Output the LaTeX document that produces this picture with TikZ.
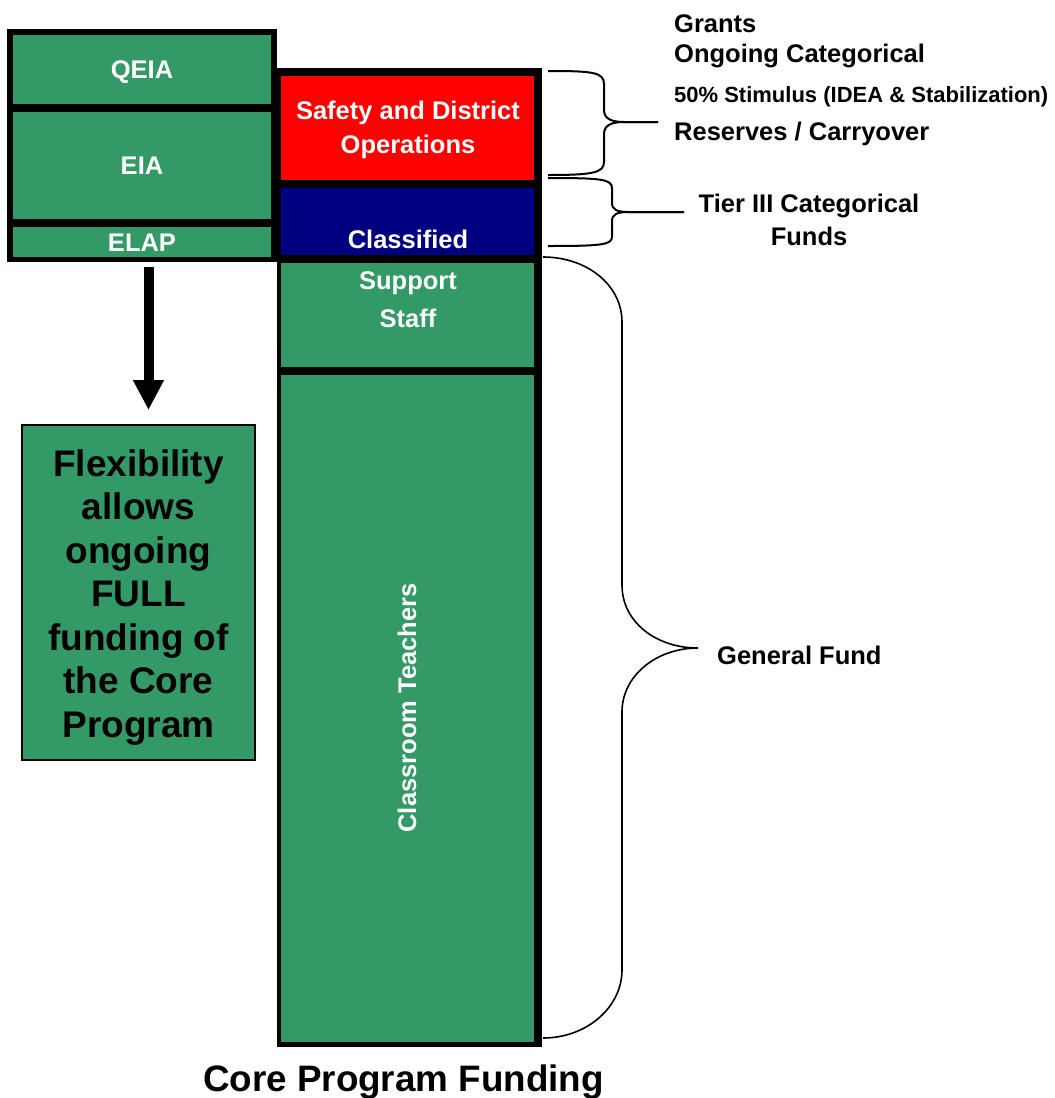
\documentclass[tikz,border=0pt]{standalone}
\usepackage{fontspec}
\setmainfont{Liberation Sans}
\usetikzlibrary{arrows.meta}
\definecolor{fgreen}{HTML}{339966}
\definecolor{fred}{HTML}{FF0000}
\definecolor{fnavy}{HTML}{000080}
\begin{document}
\begin{tikzpicture}[x=1pt,y=-1pt,
  cell/.style={rectangle, inner sep=0pt, outer sep=0pt, draw=none},
  lbl/.style={font=\bfseries\fontsize{25.5}{30}\selectfont, inner sep=0pt, anchor=base},
  wlbl/.style={lbl, text=white},
  side/.style={lbl, anchor=base west},
  bigl/.style={font=\bfseries\fontsize{37}{44}\selectfont, inner sep=0pt, anchor=base},
  brace/.style={draw=black, line width=2pt},
  gbrace/.style={draw=black, line width=1.6pt}]
\useasboundingbox (0,0) rectangle (1055,1098);

% frames
\node[cell, fill=black, minimum width=270pt, minimum height=233pt] (leftframe) at (142,145.5) {};
\node[cell, fill=black, minimum width=265pt, minimum height=979pt] (rightframe) at (409.5,557.5) {};

% left cells
\node[cell, fill=fgreen, minimum width=258pt, minimum height=69pt] (qeia) at (142,69.5) {};
\node[cell, fill=fgreen, minimum width=258pt, minimum height=107pt] (eia) at (142,165.5) {};
\node[cell, fill=fgreen, minimum width=258pt, minimum height=30pt] (elap) at (142,242) {};

% right cells
\node[cell, fill=fred, minimum width=253pt, minimum height=104pt] (safety) at (407.5,128) {};
\node[cell, fill=fnavy, minimum width=253pt, minimum height=67pt] (classified) at (407.5,221.5) {};
\node[cell, fill=fgreen, minimum width=253pt, minimum height=104pt] (support) at (407.5,315) {};
\node[cell, fill=fgreen, minimum width=253pt, minimum height=667pt] (teachers) at (407.5,708.5) {};

% cell labels
\node[wlbl] (tqeia) at (142,78) {QEIA};
\node[wlbl] (teia) at (142,174) {EIA};
\node[wlbl] (telap) at (142,251) {ELAP};
\node[wlbl] (tsaf1) at (408,119) {Safety and District};
\node[wlbl] (tsaf2) at (408,153) {Operations};
\node[wlbl] (tcla) at (408,248) {Classified};
\node[wlbl] (tsup1) at (408,289) {Support};
\node[wlbl] (tsup2) at (408,327) {Staff};
\node[lbl, text=white, anchor=center, rotate=90] (ttea) at (407,708) {Classroom Teachers};

% flexibility box and arrow
\node[cell, draw=black, line width=1.5pt, fill=fgreen, minimum width=233pt, minimum height=335pt] (flex) at (138.5,592.5) {};
\foreach \t [count=\i from 0] in {Flexibility,allows,ongoing,FULL,funding of,the Core,Program}
  \node[bigl] (fl\i) at (138.5,476+43.5*\i) {\t};
\coordinate (arrtop) at (148.5,267);
\coordinate (arrtip) at ([yshift=15pt]flex.north -| arrtop);
\draw[line width=10pt, -{Triangle[length=30pt,width=29pt]}] (arrtop) -- (arrtip);

% side labels
\node[side] (grants) at (674,32) {Grants};
\node[side] (ongoing) at (674,62) {Ongoing Categorical};
\node[side, font=\bfseries\fontsize{22}{26}\selectfont] (stim) at (674,102) {50\% Stimulus (IDEA \& Stabilization)};
\node[side] (reserves) at (674,140) {Reserves / Carryover};
\node[lbl] (tier1) at (809,212) {Tier III Categorical};
\node[lbl] (tier2) at (809,245) {Funds};
\node[side] (general) at (717,664) {General Fund};
\node[lbl, font=\bfseries\fontsize{36.8}{44}\selectfont] (title) at (403.5,1091) {Core Program Funding};

% braces
\coordinate (b1top) at (548,71);
\coordinate (b1tip) at (658,122);
\coordinate (b1bot) at (548,175);
\draw[brace] (b1top) .. controls (592,71) and (604,72) .. (604,84) -- (604,110)
  .. controls (604,119) and (612,122) .. (624,122) -- (b1tip);
\draw[brace] (b1tip) -- (624,122) .. controls (612,122) and (604,125) .. (604,134)
  -- (604,162) .. controls (604,173) and (592,175) .. (b1bot);

\coordinate (b2top) at (548,178);
\coordinate (b2tip) at (684,212);
\coordinate (b2bot) at (548,246);
\draw[brace] (b2top) .. controls (600,178) and (612,179) .. (612,188) -- (612,203)
  .. controls (612,210) and (618,212) .. (628,212) -- (b2tip);
\draw[brace] (b2tip) -- (628,212) .. controls (618,212) and (612,214) .. (612,221)
  -- (612,237) .. controls (612,245) and (600,246) .. (b2bot);

\coordinate (b3top) at (543,257);
\coordinate (b3tip) at (698,648);
\coordinate (b3bot) at (543,1038);
\draw[gbrace] (b3top) .. controls (587,257) and (622,285) .. (622,322) -- (622,585)
  .. controls (622,622) and (656,648) .. (b3tip);
\draw[gbrace] (b3tip) .. controls (656,648) and (622,676) .. (622,712) -- (622,970)
  .. controls (622,1007) and (587,1038) .. (b3bot);
\end{tikzpicture}
\end{document}
